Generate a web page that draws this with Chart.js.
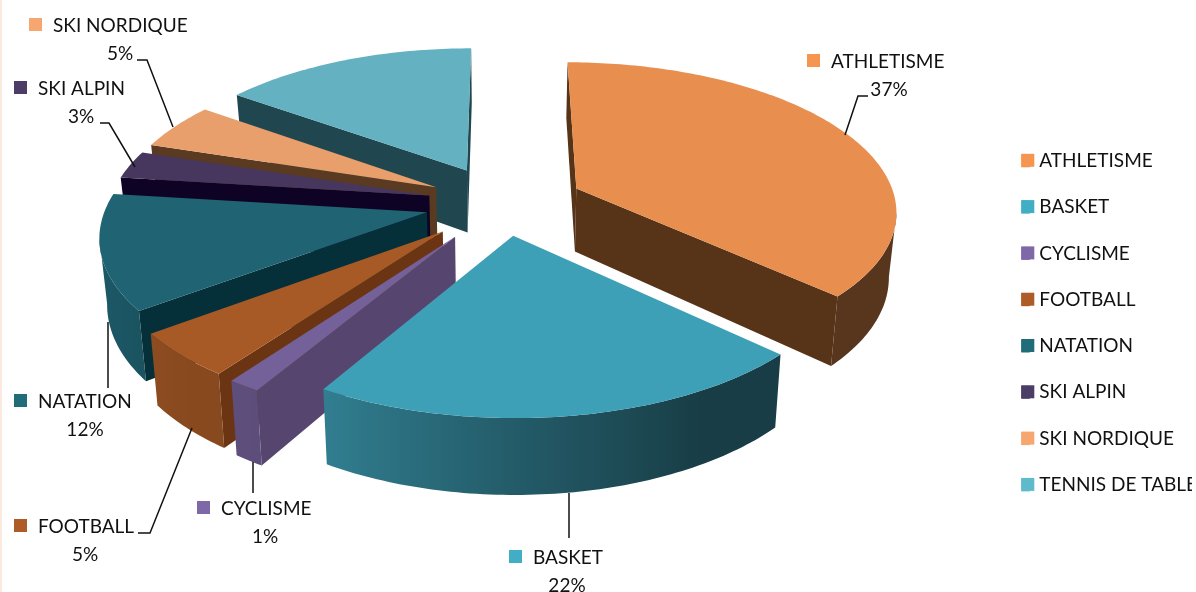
<!DOCTYPE html>
<html>
<head>
<meta charset="utf-8">
<title>Sports</title>
<script src="https://cdn.jsdelivr.net/npm/chart.js@4"></script>
<style>
  html, body { margin: 0; padding: 0; background: #fff; }
  #wrap { position: relative; width: 1192px; height: 592px; overflow: hidden; }
  #strip { position: absolute; left: 0; top: 0; width: 2px; height: 592px; background: #fbeadf; }
</style>
</head>
<body>
<div id="wrap">
  <canvas id="pie"></canvas>
  <div id="strip"></div>
</div>
<script>
// ===== Data =====
const sports = ["ATHLETISME", "BASKET", "CYCLISME", "FOOTBALL", "NATATION", "SKI ALPIN", "SKI NORDIQUE", "TENNIS DE TABLE"];
const shares = [37, 21.5, 1.4, 4.8, 12.3, 3, 5, 15];

// ===== Colours =====
const legendColors = ["#f69550", "#41aec6", "#7f68a8", "#ae5c27", "#206c79", "#4b3d66", "#f6a76f", "#5fbacc"];
const topColors = ["#e88f50", "#3ea0b7", "#75619a", "#a85a26", "#206373", "#47375f", "#e99f6b", "#64b1c2"];
const cutColors = ["#573317", "#12404b", "#56466f", "#6b3412", "#063039", "#0f0325", "#5b3a22", "#20464f"];

// how far each slice is pulled out
const explode = [81, 70, 85, 84, 78, 76, 76, 82];

// outer wall brightness against the clock angle of the rim
const wallShade = [[0, 0.38], [150, 0.38], [180, 0.57], [212, 0.8], [225, 0.82], [255, 0.9], [360, 0.9]];

// ===== Tilted view =====
const view = { cx: 503, cy: 203, tilt: 0.46, persp: 0.00043, depth: 64, taper: 0.0003 };

function project(u, v, z) {
    const w = 1 / (1 - view.persp * v);
    return [view.cx + u * w * (1 - view.taper * z), view.cy + (view.tilt * v + z) * w];
}

function shadeFor(deg) {
    for (let i = 1; i < wallShade.length; i++) {
        if (deg <= wallShade[i][0]) {
            const a = wallShade[i - 1], b = wallShade[i];
            return a[1] + (b[1] - a[1]) * (deg - a[0]) / (b[0] - a[0]);
        }
    }
    return 0.9;
}

function darken(hex, f) {
    const n = parseInt(hex.slice(1), 16);
    return `rgb(${Math.round((n >> 16) * f)},${Math.round(((n >> 8) & 255) * f)},${Math.round((n & 255) * f)})`;
}

function fillPoly(ctx, pts, color) {
    ctx.beginPath();
    pts.forEach((p, i) => i ? ctx.lineTo(p[0], p[1]) : ctx.moveTo(p[0], p[1]));
    ctx.closePath();
    ctx.fillStyle = color;
    ctx.fill();
}

// a cut wall shows only if the side below its top edge is outside the slice
function cutVisible(a, p, inside) {
    const dx = p[0] - a[0], dy = p[1] - a[1];
    const side = dx * (inside[1] - a[1]) - dy * (inside[0] - a[0]);
    return dx * side < 0;
}

// ===== Plugin: draws the library's arcs as tilted 3D slices =====
const tiltedPie = {
    id: "tiltedPie",
    afterLayout(chart) {
        // legend sits at a fixed place on the right
        chart.legend.left = 994;
        chart.legend.top = 124;
    },
    beforeDatasetsDraw(chart) {
        const ctx = chart.ctx;
        const arcs = chart.getDatasetMeta(0).data;
        const slices = arcs.map((arc, i) => {
            const p = arc.getProps(["startAngle", "endAngle", "outerRadius"], true);
            const mid = (p.startAngle + p.endAngle) / 2;
            const off = arc.options.offset;
            return {
                i, start: p.startAngle, end: p.endAngle, r: p.outerRadius,
                u: Math.cos(mid) * off, v: Math.sin(mid) * off,
                depthKey: Math.sin(mid) * (off + p.outerRadius / 2)
            };
        });
        // far slices first
        slices.sort((a, b) => a.depthKey - b.depthKey);

        slices.forEach(s => {
            const steps = Math.max(2, Math.ceil((s.end - s.start) * 180 / Math.PI));
            const rim = [];
            for (let k = 0; k <= steps; k++) {
                const t = s.start + (s.end - s.start) * k / steps;
                rim.push({ t, u: s.u + Math.cos(t) * s.r, v: s.v + Math.sin(t) * s.r });
            }
            const apexT = project(s.u, s.v, 0), apexB = project(s.u, s.v, view.depth);
            const top = rim.map(q => project(q.u, q.v, 0));
            const bot = rim.map(q => project(q.u, q.v, view.depth));
            const inside = top[Math.floor(steps / 2)];

            // cut walls
            [0, steps].forEach(idx => {
                if (cutVisible(apexT, top[idx], inside)) {
                    fillPoly(ctx, [apexT, top[idx], bot[idx], apexB], cutColors[s.i]);
                }
            });

            // outer wall, only the part turned to the viewer
            let first = -1, last = -1;
            for (let k = 0; k < steps; k++) {
                if (top[k + 1][0] < top[k][0]) {
                    if (first < 0) first = k;
                    last = k + 1;
                }
            }
            if (first >= 0) {
                const xRight = top[first][0], xLeft = top[last][0];
                const grad = ctx.createLinearGradient(xRight, 0, xLeft, 0);
                for (let k = first; k <= last; k++) {
                    const deg = (rim[k].t + Math.PI / 2) * 180 / Math.PI;
                    const stop = (top[k][0] - xRight) / (xLeft - xRight);
                    grad.addColorStop(Math.min(1, Math.max(0, stop)), darken(topColors[s.i], shadeFor(deg)));
                }
                const wall = top.slice(first, last + 1).concat(bot.slice(first, last + 1).reverse());
                fillPoly(ctx, wall, grad);
            }

            // top face
            fillPoly(ctx, [apexT].concat(top), topColors[s.i]);
        });
        return false;
    },
    afterDraw(chart) {
        const ctx = chart.ctx;
        ctx.save();

        // legend boxes are wider than the gap the library leaves before the text
        chart.legend.legendHitBoxes.forEach((hit, i) => {
            ctx.fillStyle = legendColors[i];
            ctx.fillRect(hit.left, hit.top + (hit.height - 13) / 2 - 0.5, 13, 13);
        });

        ctx.font = labelFont;
        ctx.textBaseline = "middle";
        dataLabels.forEach(l => {
            ctx.strokeStyle = "#111";
            ctx.lineWidth = 1.5;
            ctx.beginPath();
            l.leader.forEach((p, i) => i ? ctx.lineTo(p[0], p[1]) : ctx.moveTo(p[0], p[1]));
            ctx.stroke();

            ctx.fillStyle = legendColors[l.index];
            ctx.fillRect(l.x, l.y - 8, 13, 13);
            ctx.fillStyle = "#111";
            ctx.textAlign = "left";
            ctx.fillText(sports[l.index], l.x + 24, l.y);
            ctx.textAlign = "center";
            ctx.fillText(Math.round(shares[l.index]) + "%", l.pctX, l.y + 27.5);
        });
        ctx.restore();
    }
};

// ===== Data labels (text places and leader lines) =====
const labelFont = "19px Lato";
const dataLabels = [
    { index: 0, x: 807, y: 62, pctX: 889, leader: [[845, 135], [858, 96], [868, 96]] },
    { index: 1, x: 509, y: 558, pctX: 567, leader: [[569, 493], [569, 538]] },
    { index: 2, x: 197, y: 509, pctX: 265, leader: [[253, 462], [253, 493]] },
    { index: 3, x: 14, y: 527, pctX: 85, leader: [[192, 428], [150, 533], [138, 533]] },
    { index: 4, x: 14, y: 402, pctX: 85, leader: [[108, 322], [108, 388]] },
    { index: 5, x: 14, y: 89, pctX: 81, leader: [[135, 167], [109, 123], [100, 123]] },
    { index: 6, x: 29, y: 26, pctX: 120, leader: [[173, 127], [147, 60], [137, 60]] }
];

// ===== Chart =====
new Chart(document.getElementById("pie"), {
    type: "pie",
    data: {
        labels: sports,
        datasets: [{
            data: shares,
            backgroundColor: legendColors,
            borderWidth: 0,
            offset: explode,
            hoverOffset: 0
        }]
    },
    options: {
        responsive: true,
        maintainAspectRatio: false,
        animation: false,
        radius: 320,
        events: [],
        plugins: {
            tooltip: { enabled: false },
            legend: {
                position: "right",
                align: "start",
                labels: {
                    boxWidth: 8.5,
                    boxHeight: 13,
                    padding: 27.3,
                    color: "#111",
                    font: { family: "Lato", size: 19 }
                }
            }
        }
    },
    plugins: [tiltedPie]
});
</script>
</body>
</html>
